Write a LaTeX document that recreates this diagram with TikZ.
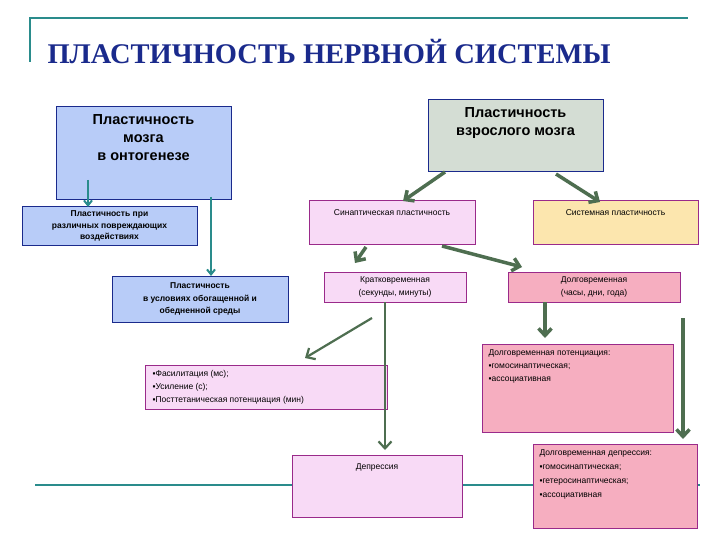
\documentclass[tikz,border=0pt]{standalone}
\usepackage{fontspec}
\setmainfont{Liberation Serif}
\newfontfamily\sans{Liberation Sans}
\usetikzlibrary{arrows.meta}
\definecolor{teal1}{HTML}{2A8C8C}
\definecolor{grn}{HTML}{4E6E50}
\definecolor{ttl}{HTML}{1A2A8C}
\definecolor{bluef}{HTML}{B8CCF8}
\definecolor{pinkf}{HTML}{F8DAF6}
\definecolor{rosef}{HTML}{F6AEC0}
\definecolor{yelf}{HTML}{FCE6AE}
\definecolor{greyf}{HTML}{D4DDD4}
\definecolor{purp}{HTML}{9A2A8A}
\begin{document}
\begin{tikzpicture}[x=1pt,y=-1pt,
 bx/.style={draw,line width=1pt,inner sep=0pt},
 blue/.style={bx,fill=bluef,draw=ttl},
 pink/.style={bx,fill=pinkf,draw=purp},
 rose/.style={bx,fill=rosef,draw=purp},
 ga/.style={draw=grn,line width=3.5pt,-{Straight Barb[length=7pt,width=13pt]}},
 ta/.style={draw=teal1,line width=2pt,-{Straight Barb[length=5pt,width=8pt]}},
 sm/.style={font=\sans\fontsize{8.5}{10}\selectfont,align=center},
 sl/.style={font=\sans\fontsize{8.5}{13}\selectfont,align=left,anchor=north west}]
\useasboundingbox (0,0) rectangle (720,540);
\fill[white] (0,0) rectangle (720,540);
\draw[teal1,line width=2pt] (30,62) -- (30,18) -- (688,18);
\draw[teal1,line width=2pt] (35,485) -- (700,485);
\node[anchor=west,text=ttl,font=\bfseries\fontsize{28.5}{30}\selectfont] (title) at (44,52) {ПЛАСТИЧНОСТЬ НЕРВНОЙ СИСТЕМЫ};
% boxes
\path[blue] (56,107) rectangle (231,200);
\node[font=\sans\bfseries\fontsize{14.5}{18}\selectfont,align=center,anchor=north] (onto) at (143.5,111) {Пластичность\\мозга\\в онтогенезе};
\path[bx,fill=greyf,draw=ttl] (428,100) rectangle (603,172);
\node[font=\sans\bfseries\fontsize{14.5}{18}\selectfont,align=center,anchor=north] (adult) at (515.5,104) {Пластичность\\взрослого мозга};
\path[blue] (22,207) rectangle (197,245);
\node[sm,font=\sans\bfseries\fontsize{8.5}{11.5}\selectfont] (inj) at (109.5,226) {Пластичность при\\различных повреждающих\\воздействиях};
\path[blue] (112,276) rectangle (288,322);
\node[sm,font=\sans\bfseries\fontsize{8.5}{12.5}\selectfont] (env) at (200,299) {Пластичность\\в условиях обогащенной и\\обедненной среды};
\path[pink] (309,201) rectangle (475,244);
\node[sm,anchor=north] (syn) at (392,206) {Синаптическая пластичность};
\path[bx,fill=yelf,draw=purp] (533,201) rectangle (698,244);
\node[sm,anchor=north] (sys) at (615.5,206) {Системная пластичность};
\path[pink] (324,272) rectangle (466,302);
\node[sm,font=\sans\fontsize{8.5}{13}\selectfont] (short) at (395,287) {Кратковременная\\(секунды, минуты)};
\path[rose] (508,272) rectangle (680,302);
\node[sm,font=\sans\fontsize{8.5}{13}\selectfont] (long) at (594,287) {Долговременная\\(часы, дни, года)};
\path[pink] (145,365) rectangle (387,409);
\node[sl] (fac) at (149,367) {▪Фасилитация (мс);\\▪Усиление (с);\\▪Посттетаническая потенциация (мин)};
\path[rose] (482,344) rectangle (673,432);
\node[sl] (ltp) at (485,346) {Долговременная потенциация:\\▪гомосинаптическая;\\▪ассоциативная};
\path[pink] (292,455) rectangle (462,517);
\node[sm,anchor=north] (dep) at (377,460) {Депрессия};
\path[rose] (533,444) rectangle (697,528);
\node[sl,font=\sans\fontsize{8.5}{14}\selectfont] (ltd) at (536,446) {Долговременная депрессия:\\▪гомосинаптическая;\\▪гетеросинаптическая;\\▪ассоциативная};
% arrows
\coordinate (t1) at (88,180); \coordinate (t1e) at (88,207);
\coordinate (t2) at (211,197); \coordinate (t2e) at (211,276);
\draw[ta] (t1) -- (t1e);
\draw[ta] (t2) -- (t2e);
\coordinate (a1) at (445,172); \coordinate (a1e) at (403,201);
\coordinate (a2) at (556,174); \coordinate (a2e) at (600,202);
\coordinate (a3) at (366,247); \coordinate (a3e) at (355,263);
\coordinate (a4) at (442,246); \coordinate (a4e) at (522,267);
\coordinate (a5) at (372,318); \coordinate (a5e) at (305,358);
\coordinate (a6) at (385,302); \coordinate (a6e) at (385,450);
\coordinate (a7) at (545,302); \coordinate (a7e) at (545,338);
\coordinate (a8) at (683,318); \coordinate (a8e) at (683,439);
\foreach \p in {a1,a2,a3,a4,a7,a8} \draw[ga] (\p) -- (\p e);
\draw[ga,line width=2.2pt] (a5) -- (a5e);
\draw[ga,line width=2.2pt] (a6) -- (a6e);
\end{tikzpicture}
\end{document}
